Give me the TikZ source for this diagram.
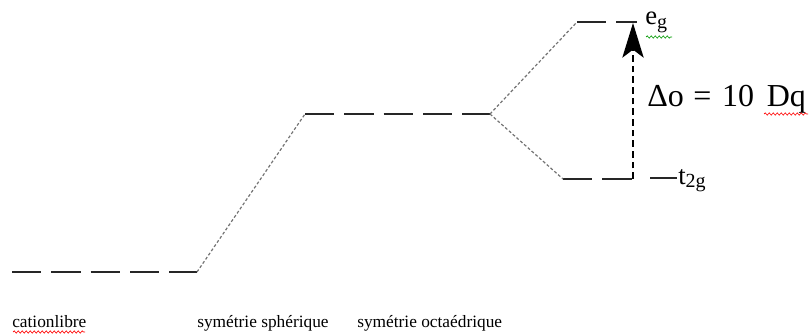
\documentclass[tikz,border=0pt]{standalone}
\usepackage{fontspec}
\setmainfont{Liberation Serif}
\usetikzlibrary{arrows.meta,decorations.pathmorphing}
\newcommand{\lowsub}[2]{\raisebox{#1}{\fontsize{15}{15}\selectfont #2}}
\begin{document}
\begin{tikzpicture}[x=0.75pt,y=-0.75pt,
  level/.style={line width=1.4pt,draw=black!85,dash pattern=on 22pt off 7.5pt},
  link/.style={line width=0.9pt,draw=black!55,dash pattern=on 2.2pt off 1.6pt},
  gap/.style={line width=1.1pt,draw=black,dash pattern=on 5pt off 3pt},
  lab/.style={anchor=base west,inner sep=0pt,font=\fontsize{13}{15}\selectfont},
  big/.style={anchor=base west,inner sep=0pt,font=\fontsize{20}{22}\selectfont},
  squig/.style={decorate,decoration={snake,amplitude=0.8pt,segment length=3pt},line width=0.5pt}]
\useasboundingbox (0,0) rectangle (811,335);
% coordinates
\coordinate (L1) at (12,272);
\coordinate (L2) at (197,272);
\coordinate (M1) at (305,114);
\coordinate (M2) at (490,114);
\coordinate (E1) at (577,22);
\coordinate (E2) at (637,22);
\coordinate (T1) at (563,179);
\coordinate (T2) at (633,179);
\coordinate (A0) at (633,179);
\coordinate (A1) at (633,23);
\coordinate (D1) at (650,178);
\coordinate (D2) at (677,178);
% levels
\draw[level] (L1) -- (L2);
\draw[level] (M1) -- (M2);
\draw[level] (E1) -- (E2);
\draw[level] (T1) -- (T2);
\draw[line width=1.4pt,black!85] (D1) -- (D2);
% links
\draw[link] (L2) -- (M1);
\draw[link] (M2) -- (E1);
\draw[link] (M2) -- (T1);
% arrow
\draw[gap,-{Stealth[length=26pt,width=16pt,inset=6pt]}] (A0) -- (A1);
% labels
\node[big] (eg) at (645,25) {e\lowsub{-0.13em}{g}};
\node[big,font=\fontsize{24}{26}\selectfont] (do) at (647,107) {Δo\hspace{0.3em}=\hspace{0.33em}10\hspace{0.4em}Dq};
\node[big] (tg) at (678,185) {t\lowsub{-0.1em}{2g}};
\node[lab] (c1) at (12,327) {cationlibre};
\node[lab] (c2) at (197,327) {symétrie sphérique};
\node[lab] (c3) at (357,327) {symétrie octaédrique};
% spelling squiggles
\draw[squig,green!60!black] (646,37) -- (672,37);
\draw[squig,red] (764,114) -- (808,114);
\draw[squig,red] (13,332) -- (85,332);
\end{tikzpicture}
\end{document}
